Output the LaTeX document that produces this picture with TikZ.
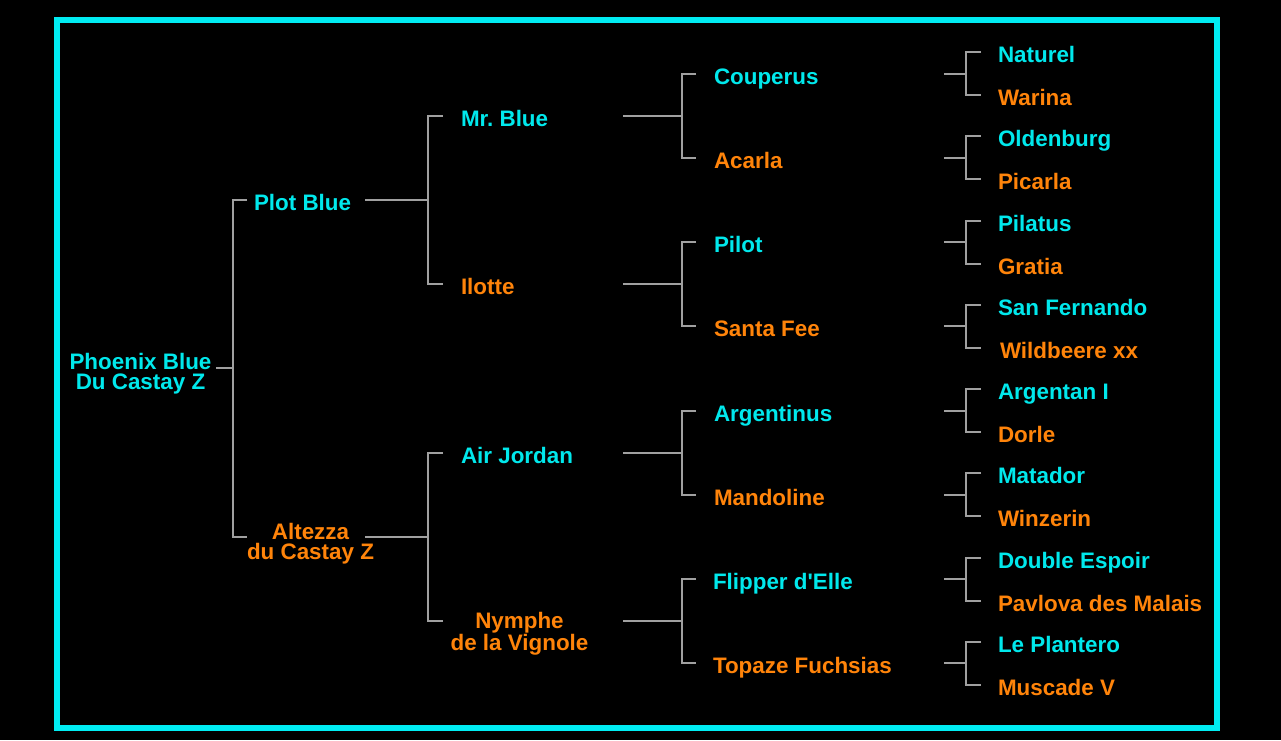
\documentclass[tikz,border=0pt]{standalone}
\usepackage{fontspec}
\setmainfont{Liberation Sans}
\frenchspacing
\definecolor{cyanT}{RGB}{0,232,236}
\definecolor{cyanB}{RGB}{0,236,242}
\definecolor{orangeT}{RGB}{255,132,10}
\definecolor{lineG}{RGB}{160,160,160}
\tikzset{
  lbl/.style={inner sep=0pt, outer sep=0pt, anchor=base west, font=\fontsize{22.4}{20}\selectfont\bfseries},
  lbl2/.style={inner sep=0pt, outer sep=0pt, anchor=base, align=center, font=\fontsize{22.4}{20}\selectfont\bfseries},
  cy/.style={text=cyanT},
  og/.style={text=orangeT},
  conn/.style={draw=lineG, line width=2pt},
}
\begin{document}
\begin{tikzpicture}[x=1pt,y=-1pt]
\fill[black] (0,0) rectangle (1281,740);
\useasboundingbox (0,0) rectangle (1281,740);
\draw[cyanB, line width=6pt] (56.7,20.3) rectangle (1217,728.3);

% column coordinates
\coordinate (o0) at (216,0); \coordinate (j0) at (233,0); \coordinate (t0) at (247,0);
\coordinate (o1) at (365,0); \coordinate (j1) at (428,0); \coordinate (t1) at (443,0);
\coordinate (o2) at (623,0); \coordinate (j2) at (682,0); \coordinate (t2) at (696,0);
\coordinate (o3) at (944,0); \coordinate (j3) at (966,0); \coordinate (t3) at (981,0);

% level 0 (base = baseline of last line)
\node[lbl2, cy] (root) at (140.5,389.5) {Phoenix Blue\\Du Castay Z};
% level 1
\node[lbl, cy] (plot) at (254,210.2) {Plot Blue};
\node[lbl2, og] (alt) at (310.5,559) {Altezza\\du Castay Z};
% level 2
\node[lbl, cy] (mrblue) at (461,126) {Mr.\ Blue};
\node[lbl, og] (ilotte) at (461,294.5) {Ilotte};
\node[lbl, cy] (airj) at (461,463) {Air Jordan};
\node[lbl2, og] (nym) at (519.5,650.5) {Nymphe\\de la Vignole};
% level 3
\node[lbl, cy] (couperus) at (714,84) {Couperus};
\node[lbl, og] (acarla) at (714,168) {Acarla};
\node[lbl, cy] (pilot) at (714,252.5) {Pilot};
\node[lbl, og] (santafee) at (714,336.5) {Santa Fee};
\node[lbl, cy] (argentinus) at (714,421) {Argentinus};
\node[lbl, og] (mandoline) at (714,505) {Mandoline};
\node[lbl, cy] (flipper) at (713,589.5) {Flipper d\textquotesingle Elle};
\node[lbl, og] (topaze) at (713,673.5) {Topaze Fuchsias};
% level 4
\node[lbl, cy] (naturel) at (998,62.5) {Naturel};
\node[lbl, og] (warina) at (998,105.5) {Warina};
\node[lbl, cy] (oldenburg) at (998,146.5) {Oldenburg};
\node[lbl, og] (picarla) at (998,189.5) {Picarla};
\node[lbl, cy] (pilatus) at (998,231) {Pilatus};
\node[lbl, og] (gratia) at (998,274) {Gratia};
\node[lbl, cy] (sanfernando) at (998,315) {San Fernando};
\node[lbl, og] (wildbeere) at (1000,358) {Wildbeere xx};
\node[lbl, cy] (argentan) at (998,399.5) {Argentan I};
\node[lbl, og] (dorle) at (998,442.5) {Dorle};
\node[lbl, cy] (matador) at (998,483.5) {Matador};
\node[lbl, og] (winzerin) at (998,526.5) {Winzerin};
\node[lbl, cy] (doubleespoir) at (998,568) {Double Espoir};
\node[lbl, og] (pavlova) at (998,611) {Pavlova des Malais};
\node[lbl, cy] (leplantero) at (998,652) {Le Plantero};
\node[lbl, og] (muscade) at (998,695) {Muscade V};

% tick points of the labels
\foreach \n in {plot,mrblue,ilotte,airj,couperus,acarla,pilot,santafee,argentinus,mandoline,flipper,topaze,naturel,warina,oldenburg,picarla,pilatus,gratia,sanfernando,wildbeere,argentan,dorle,matador,winzerin,doubleespoir,pavlova,leplantero,muscade}
  \path ([yshift=10.5pt]\n.base west) coordinate (\n-t);
\path ([yshift=21.5pt]root.base) coordinate (root-t);
\path ([yshift=22.3pt]alt.base) coordinate (alt-t);
\path ([yshift=29.5pt]nym.base) coordinate (nym-t);

% level 0 connectors
\draw[conn] (root-t -| o0) -- (root-t -| j0);
\draw[conn] (plot-t -| t0) -| (alt-t -| j0) -- (alt-t -| t0);
% level 1 connectors
\foreach \p in {plot,alt} \draw[conn] (\p-t -| o1) -- (\p-t -| j1);
\draw[conn] (mrblue-t -| t1) -| (ilotte-t -| j1) -- (ilotte-t -| t1);
\draw[conn] (airj-t -| t1) -| (nym-t -| j1) -- (nym-t -| t1);
% level 2 connectors
\foreach \p in {mrblue,ilotte,airj,nym} \draw[conn] (\p-t -| o2) -- (\p-t -| j2);
\foreach \a/\b in {couperus/acarla,pilot/santafee,argentinus/mandoline,flipper/topaze}
  \draw[conn] (\a-t -| t2) -| (\b-t -| j2) -- (\b-t -| t2);
% level 3 connectors
\foreach \p in {couperus,acarla,pilot,santafee,argentinus,mandoline,flipper,topaze}
  \draw[conn] (\p-t -| o3) -- (\p-t -| j3);
\foreach \a/\b in {naturel/warina,oldenburg/picarla,pilatus/gratia,sanfernando/wildbeere,argentan/dorle,matador/winzerin,doubleespoir/pavlova,leplantero/muscade}
  \draw[conn] (\a-t -| t3) -| (\b-t -| j3) -- (\b-t -| t3);
\end{tikzpicture}
\end{document}
